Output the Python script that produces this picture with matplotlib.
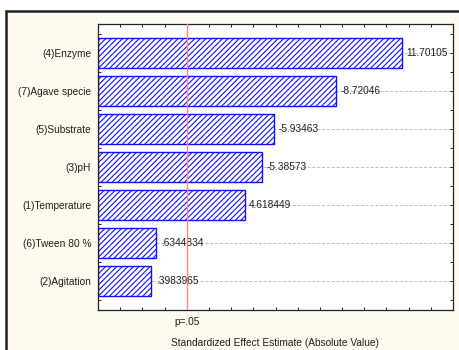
import numpy as np
import matplotlib.pyplot as plt
from matplotlib.patches import Rectangle

# --- Data ---
effects = ["(4)Enzyme", "(7)Agave specie", "(5)Substrate", "(3)pH",
           "(1)Temperature", "(6)Tween 80 %", "(2)Agitation"]
estimates = [11.70105, -8.72046, -5.93463, -5.38573, 4.618449, .6344834, .3983965]
value_labels = ["11.70105", "-8.72046", "-5.93463", "-5.38573",
                "4.618449", ".6344834", ".3983965"]
p_crit = 2.03
X_MIN, X_MAX = -2, 14

plt.rcParams["font.family"] = ["Liberation Sans", "DejaVu Sans"]
plt.rcParams["hatch.linewidth"] = 0.8
FS = 7.3

fig = plt.figure(figsize=(4.59, 3.5), dpi=100)
fig.patch.set_facecolor("white")
# outer panel (cream, framed; right/bottom edges run off the picture)
fig.patches.append(Rectangle((6 / 459, -0.1), 1.2, (350 - 11) / 350 + 0.1,
                             transform=fig.transFigure, facecolor="#fefaf0",
                             edgecolor="#202020", linewidth=1.8, zorder=-5))

ax = fig.add_axes([98 / 459, 1 - 310 / 350, (453 - 98) / 459, (310 - 24) / 350])
ax.set_facecolor("white")

abs_vals = np.abs(estimates)
y = np.arange(len(effects))

for yi in y:
    ax.axhline(yi, color="#bdbdbd", linestyle=(0, (3, 2)), linewidth=0.7, zorder=1)

ax.barh(y, abs_vals - X_MIN, left=X_MIN, height=0.8, facecolor="white",
        edgecolor="#1010ff", hatch="//////", linewidth=1.0, zorder=2)

for yi, v, lab in zip(y, abs_vals, value_labels):
    ax.text(v + 0.2, yi, lab, va="center", ha="left", fontsize=FS,
            color="#202020", zorder=3)

ax.axvline(p_crit, color="#ff8888", linewidth=1.0, zorder=4)

ax.set_xlim(X_MIN, X_MAX)
ax.set_ylim(len(effects) - 0.24, -0.76)
ax.set_yticks(y)
ax.set_yticklabels(effects, fontsize=FS)
ax.set_yticks(np.arange(-0.5, len(effects), 1.0), minor=True)
ax.set_xticks(np.arange(X_MIN, X_MAX + 0.1, 2))
ax.set_xticklabels([])
ax.set_xticks(np.arange(X_MIN, X_MAX + 0.1, 1), minor=True)
ax.tick_params(which="both", direction="in", top=True, right=True,
               length=2.5, width=0.7, colors="#202020")
ax.tick_params(axis="y", which="major", pad=5)
for s in ax.spines.values():
    s.set_linewidth(0.9)
    s.set_color("#202020")

ax.text(p_crit, -0.025, "p=.05", transform=ax.get_xaxis_transform(),
        ha="center", va="top", fontsize=FS, color="#202020")
fig.text(275 / 459, 1 - 343 / 350, "Standardized Effect Estimate (Absolute Value)",
         ha="center", va="center", fontsize=FS, color="#202020")

fig.savefig("out.png", dpi=100)
